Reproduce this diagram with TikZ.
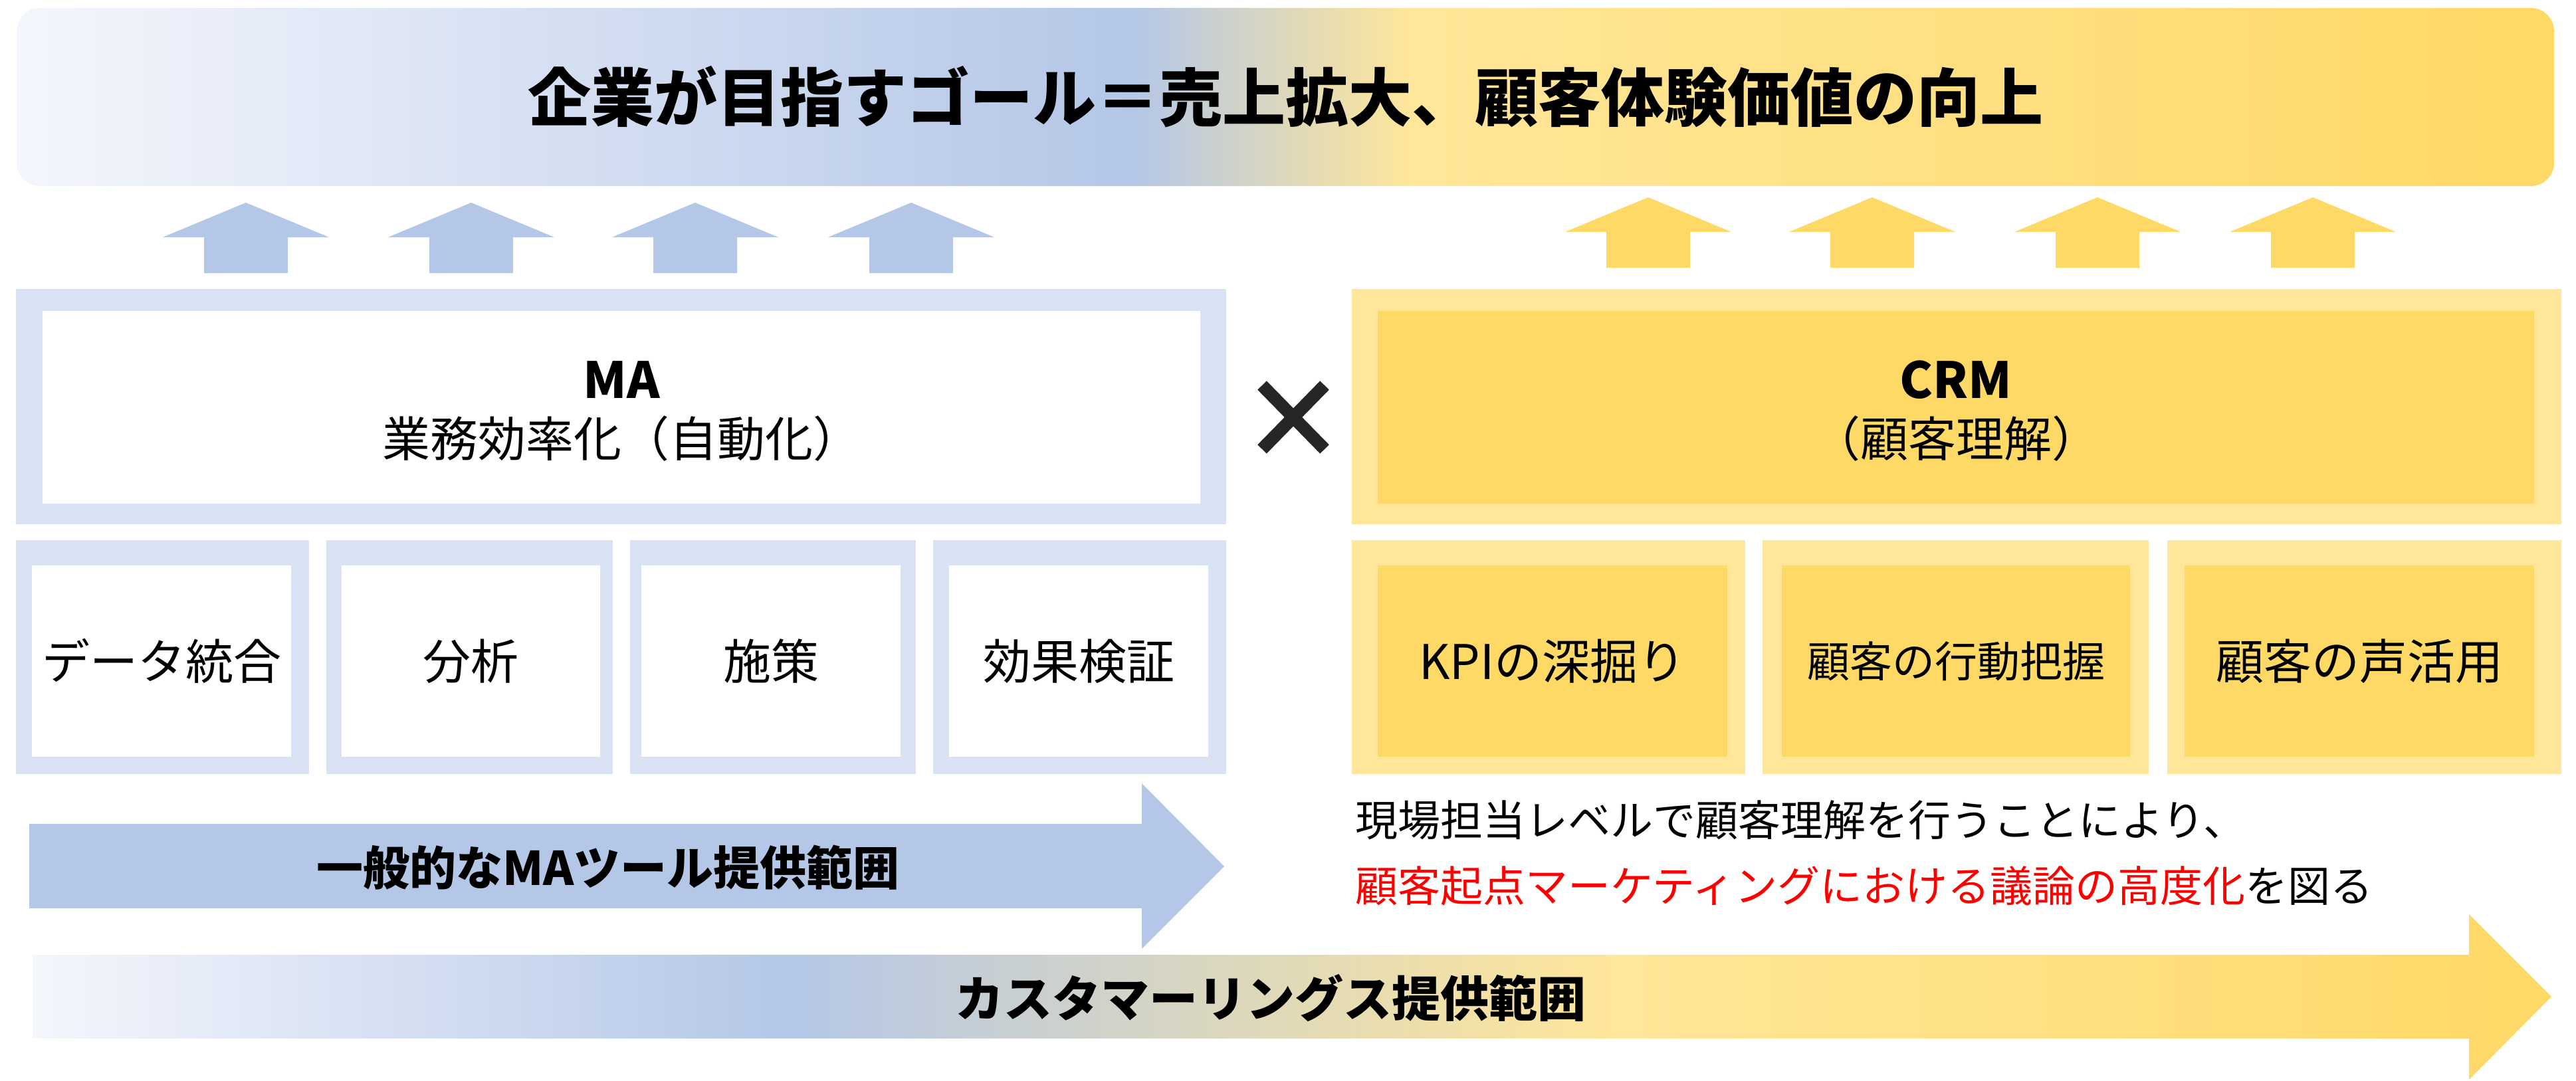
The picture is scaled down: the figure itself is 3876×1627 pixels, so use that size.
\documentclass[tikz,border=0pt]{standalone}
\usepackage{fontspec}
\setmainfont{Noto Sans CJK JP}
\definecolor{lblue}{HTML}{DAE3F3}
\definecolor{mblue}{HTML}{B4C7E7}
\definecolor{lyel}{HTML}{FFE699}
\definecolor{myel}{HTML}{FFD966}
\definecolor{pale}{HTML}{F4F6FC}
\definecolor{redtxt}{HTML}{FF0000}
\definecolor{xcol}{HTML}{262626}
\pgfdeclarehorizontalshading{bannershade}{100bp}{color(0bp)=(pale); color(25bp)=(pale); color(47bp)=(mblue); color(52.5bp)=(lyel); color(75bp)=(myel); color(100bp)=(myel)}
\pgfdeclarehorizontalshading{arrowshade}{100bp}{color(0bp)=(pale); color(25bp)=(pale); color(40bp)=(mblue); color(56.5bp)=(lyel); color(75bp)=(myel); color(100bp)=(myel)}
\tikzset{
  uparr/.pic={\path[pic actions] (-125,52) -- (0,0) -- (125,52) -- (63,52) -- (63,106) -- (-63,106) -- (-63,52) -- cycle;},
  inbox/.style={inner sep=0, draw=none, font=\fontsize{72}{86}\selectfont},
  reg/.style={inner sep=0, font=\fontsize{72}{86}\selectfont},
  captxt/.style={inner sep=0, anchor=west, font=\fontsize{64}{76}\selectfont},
}
\begin{document}
\begin{tikzpicture}[x=1pt,y=-1pt]
\useasboundingbox (0,0) rectangle (3876,1627);
% banner
\path[shading=bannershade, rounded corners=35] (25,12) rectangle (3843,280);
\node[inner sep=0, font=\fontsize{95}{110}\selectfont\bfseries] (title) at (1934,146) {企業が目指すゴール＝売上拡大、顧客体験価値の向上};
% up arrows
\foreach \x in {370,709,1046,1371} \pic[fill=mblue] at (\x,305) {uparr};
\foreach \x in {2480,2817,3156,3480} \pic[fill=myel] at (\x,297) {uparr};
% MA big box
\fill[lblue] (24,435) rectangle (1845,789);
\node[inbox, fill=white, minimum width=1742, minimum height=290] (ma) at (935,613) {};
\node[inner sep=0, font=\fontsize{75}{86}\selectfont\bfseries] (matitle) at (935,572) {MA};
\node[reg] (masub) at (935,660) {業務効率化（自動化）};
% CRM big box
\fill[lyel] (2034,435) rectangle (3854,789);
\node[inbox, fill=myel, minimum width=1740, minimum height=290] (crm) at (2943,613) {};
\node[inner sep=0, font=\fontsize{75}{86}\selectfont\bfseries] (crmtitle) at (2943,572) {CRM};
\node[reg] (crmsub) at (2943,660) {（顧客理解）};
% times sign
\coordinate (x1) at (1899,580); \coordinate (x2) at (1993,676);
\coordinate (x3) at (1899,676); \coordinate (x4) at (1993,580);
\draw[xcol, line width=19] (x1) -- (x2) (x3) -- (x4);
% MA small boxes
\fill[lblue] (24,813) rectangle (465,1165);
\fill[lblue] (491,813) rectangle (922,1165);
\fill[lblue] (948,813) rectangle (1378,1165);
\fill[lblue] (1404,813) rectangle (1845,1165);
\node[inbox, fill=white, minimum width=390, minimum height=288] (m1) at (243,995) {データ統合};
\node[inbox, fill=white, minimum width=389, minimum height=288] (m2) at (708.5,995) {分析};
\node[inbox, fill=white, minimum width=390, minimum height=288] (m3) at (1160,995) {施策};
\node[inbox, fill=white, minimum width=390, minimum height=288] (m4) at (1623,995) {効果検証};
% CRM small boxes
\fill[lyel] (2034,813) rectangle (2626,1165);
\fill[lyel] (2652,813) rectangle (3233,1165);
\fill[lyel] (3261,813) rectangle (3854,1165);
\node[inbox, fill=myel, minimum width=526, minimum height=288] (c1) at (2336,995) {KPIの深掘り};
\node[inbox, fill=myel, minimum width=524, minimum height=288, font=\fontsize{64}{76}\selectfont] (c2) at (2943,995) {顧客の行動把握};
\node[inbox, fill=myel, minimum width=526, minimum height=288] (c3) at (3550,995) {顧客の声活用};
% MA tool arrow
\fill[mblue] (44,1240) -- (1718,1240) -- (1718,1179) -- (1842,1304) -- (1718,1428) -- (1718,1367) -- (44,1367) -- cycle;
\node[inner sep=0, font=\fontsize{70}{84}\selectfont\bfseries] (matool) at (915,1306) {一般的なMAツール提供範囲};
% caption
\node[captxt] (cap1) at (2039,1234) {現場担当レベルで顧客理解を行うことにより、};
\node[captxt] (cap2) at (2039,1333) {\textcolor{redtxt}{顧客起点マーケティングにおける議論の高度化}を図る};
% customering arrow
\path[shading=arrowshade] (49,1437) -- (3715,1437) -- (3715,1376) -- (3839,1500) -- (3715,1625) -- (3715,1563) -- (49,1563) -- cycle;
\node[inner sep=0, font=\fontsize{73}{88}\selectfont\bfseries] (cust) at (1912,1502) {カスタマーリングス提供範囲};
\end{tikzpicture}
\end{document}
